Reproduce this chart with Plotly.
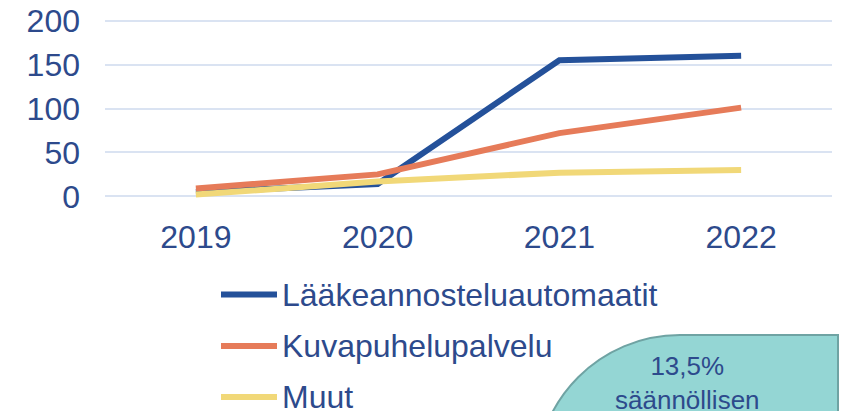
import plotly.graph_objects as go

years = ["2019", "2020", "2021", "2022"]
series_names = ["Lääkeannosteluautomaatit", "Kuvapuhelupalvelu", "Muut"]
automaatit = [5, 14, 155, 160]
kuvapuhelu = [9, 25, 72, 101]
muut = [2, 17, 27, 30]
series_values = [automaatit, kuvapuhelu, muut]
series_colors = ["#24519A", "#E67B59", "#F1D878"]
y_ticks = [0, 50, 100, 150, 200]
callout_lines = ["13,5%", "säännöllisen"]

TEXT = "#2D4A8C"
FONT = "Arial, Liberation Sans, sans-serif"
W, H = 841, 411
L, R, T, B = 105, 9, 18, 212
PW, PH = W - L - R, H - T - B


def px(x):
    return (x - L) / PW


def py(y):
    return (H - B - y) / PH


fig = go.Figure()
for name, vals, col in zip(series_names, series_values, series_colors):
    fig.add_trace(go.Scatter(x=years, y=vals, name=name, mode="lines",
                             line=dict(color=col, width=6),
                             showlegend=False, hoverinfo="skip"))

shapes = []
annotations = []
# manual legend
leg_y = [294.5, 346, 397]
for name, col, ly in zip(series_names, series_colors, leg_y):
    shapes.append(dict(type="line", xref="paper", yref="paper",
                       x0=px(221), x1=px(277), y0=py(ly), y1=py(ly),
                       line=dict(color=col, width=6)))
    annotations.append(dict(xref="paper", yref="paper", x=px(280), y=py(ly),
                            xanchor="left", yanchor="middle", showarrow=False,
                            text=name, font=dict(family=FONT, size=32, color=TEXT)))

# callout shape (rounded top-left corner)
r = 144
k = 0.5523 * r
cx0, top = 680, 335
right = 838
pts = [
    ("M", [(right, 520)]),
    ("L", [(right, top)]),
    ("L", [(cx0, top)]),
    ("C", [(cx0 - k, top), (cx0 - r, top + r - k), (cx0 - r, top + r)]),
    ("L", [(cx0 - r, 520)]),
]
path = ""
for cmd, ps in pts:
    path += cmd + " ".join(f"{px(a):.5f},{py(b):.5f}" for a, b in ps) + " "
path += "Z"
shapes.append(dict(type="path", xref="paper", yref="paper", path=path,
                   fillcolor="#94D6D4", line=dict(color="#6FA3A3", width=2),
                   layer="above"))
annotations.append(dict(xref="paper", yref="paper", x=px(687), y=py(349),
                        xanchor="center", yanchor="top", showarrow=False,
                        text="<br>".join(callout_lines),
                        font=dict(family=FONT, size=26, color=TEXT)))

fig.update_layout(
    width=W, height=H,
    margin=dict(l=L, r=R, t=T, b=B, autoexpand=False),
    paper_bgcolor="white", plot_bgcolor="white",
    font=dict(family=FONT, color=TEXT),
    shapes=shapes, annotations=annotations,
    xaxis=dict(type="category", range=[-0.5, 3.5], showgrid=False, showline=False,
               zeroline=False, automargin=False,
               ticks="", tickfont=dict(size=32, color=TEXT), ticklabelstandoff=16),
    yaxis=dict(range=[-3, 203], tickvals=y_ticks, showgrid=True, automargin=False,
               gridcolor="#DAE3F2", gridwidth=2, zeroline=False, showline=False,
               ticks="", tickfont=dict(size=32, color=TEXT), ticklabelstandoff=24),
)
fig.write_html("out.html", config={"displayModeBar": False},
               post_script="document.body.style.margin='0px';")
